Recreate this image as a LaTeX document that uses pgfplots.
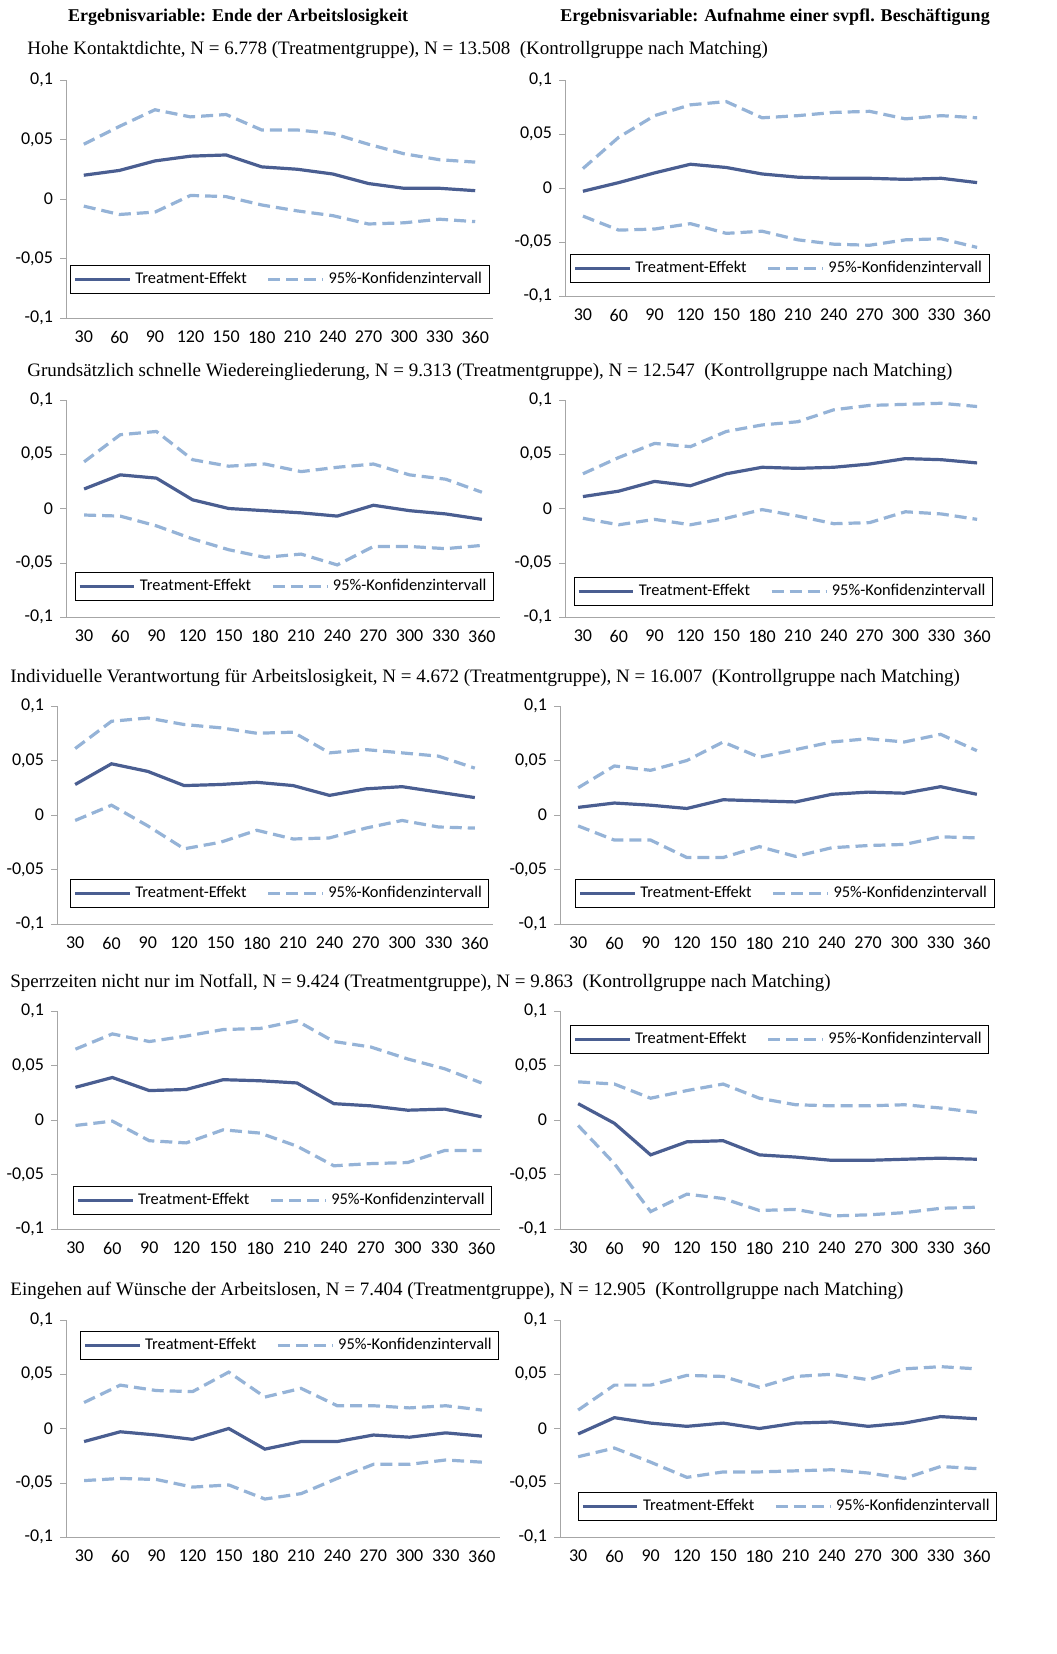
\documentclass[border=0pt]{standalone}
\usepackage{fontspec}
\setmainfont{Liberation Serif}
\newfontfamily\calib{Carlito}
\usepackage{pgfplots}
\usepackage{pgfplotstable}
\pgfplotsset{compat=1.18}
\definecolor{tcol}{RGB}{74,94,145}
\definecolor{ccol}{RGB}{149,179,215}
\pgfplotstableread{
x t u l
30 .020 .046 -.006
60 .024 .061 -.013
90 .032 .075 -.011
120 .036 .069 .003
150 .037 .071 .002
180 .027 .058 -.005
210 .025 .058 -.010
240 .021 .055 -.014
270 .013 .046 -.021
300 .009 .038 -.020
330 .009 .033 -.017
360 .007 .031 -.019
}\tA
\pgfplotstableread{
x t u l
30 -.003 .018 -.026
60 .005 .047 -.039
90 .014 .067 -.038
120 .022 .077 -.033
150 .019 .080 -.042
180 .013 .065 -.040
210 .010 .067 -.048
240 .009 .070 -.052
270 .009 .071 -.053
300 .008 .064 -.048
330 .009 .067 -.047
360 .005 .065 -.055
}\tB
\pgfplotstableread{
x t u l
30 .018 .043 -.006
60 .031 .068 -.007
90 .028 .071 -.016
120 .008 .045 -.028
150 .000 .039 -.038
180 -.002 .041 -.045
210 -.004 .034 -.042
240 -.007 .038 -.052
270 .003 .041 -.035
300 -.002 .031 -.035
330 -.005 .027 -.037
360 -.010 .015 -.034
}\tC
\pgfplotstableread{
x t u l
30 .011 .032 -.009
60 .016 .047 -.015
90 .025 .060 -.010
120 .021 .057 -.015
150 .032 .071 -.009
180 .038 .077 -.001
210 .037 .080 -.007
240 .038 .091 -.014
270 .041 .095 -.013
300 .046 .096 -.003
330 .045 .097 -.005
360 .042 .094 -.010
}\tD
\pgfplotstableread{
x t u l
30 .028 .061 -.005
60 .047 .086 .009
90 .040 .089 -.010
120 .027 .083 -.031
150 .028 .080 -.025
180 .030 .075 -.014
210 .027 .076 -.022
240 .018 .057 -.021
270 .024 .060 -.012
300 .026 .057 -.005
330 .021 .054 -.011
360 .016 .043 -.012
}\tE
\pgfplotstableread{
x t u l
30 .007 .025 -.010
60 .011 .045 -.023
90 .009 .041 -.023
120 .006 .050 -.039
150 .014 .067 -.039
180 .013 .053 -.029
210 .012 .060 -.038
240 .019 .067 -.030
270 .021 .070 -.028
300 .020 .067 -.027
330 .026 .074 -.020
360 .019 .059 -.021
}\tF
\pgfplotstableread{
x t u l
30 .030 .065 -.005
60 .039 .079 -.001
90 .027 .072 -.019
120 .028 .077 -.021
150 .037 .083 -.009
180 .036 .084 -.012
210 .034 .091 -.024
240 .015 .072 -.042
270 .013 .067 -.040
300 .009 .056 -.039
330 .010 .047 -.028
360 .003 .034 -.028
}\tG
\pgfplotstableread{
x t u l
30 .015 .035 -.005
60 -.003 .033 -.040
90 -.032 .020 -.084
120 -.020 .027 -.068
150 -.019 .033 -.072
180 -.032 .020 -.083
210 -.034 .014 -.082
240 -.037 .013 -.088
270 -.037 .013 -.087
300 -.036 .014 -.085
330 -.035 .011 -.081
360 -.036 .007 -.080
}\tH
\pgfplotstableread{
x t u l
30 -.012 .024 -.048
60 -.003 .040 -.046
90 -.006 .035 -.047
120 -.010 .034 -.054
150 .000 .052 -.052
180 -.019 .029 -.065
210 -.012 .037 -.060
240 -.012 .021 -.046
270 -.006 .021 -.033
300 -.008 .019 -.033
330 -.004 .021 -.029
360 -.007 .017 -.031
}\tI
\pgfplotstableread{
x t u l
30 -.005 .017 -.026
60 .010 .040 -.018
90 .005 .040 -.031
120 .002 .049 -.045
150 .005 .048 -.040
180 .000 .038 -.040
210 .005 .048 -.039
240 .006 .050 -.038
270 .002 .045 -.041
300 .005 .055 -.046
330 .011 .057 -.035
360 .009 .055 -.037
}\tJ
\pgfplotsset{panel/.style={scale only axis, xmin=15, xmax=375, ymin=-0.1, ymax=0.1,
  xtick={30,60,...,360}, ytick={-0.1,-0.05,0,0.05,0.1},
  yticklabels={{-0,1},{-0,05},0,{0,05},{0,1}},
  axis x line*=bottom, axis y line*=left, axis line style={gray!70,-},
  major x tick style={draw=none}, ytick style={gray!70}, tick align=outside, major tick length=3pt,
  tick label style={font=\calib\fontsize{9}{10}\selectfont},
  /pgf/number format/assume math mode=true,
  legend columns=2,
  legend style={font=\calib\fontsize{8.2}{9}\selectfont, draw=black, inner sep=1.5pt, row sep=0pt,
    /tikz/every even column/.append style={column sep=8pt}},
  legend image post style={xscale=1.6},
}}
\newcommand\panel[6]{%
\pgfmathsetmacro\pw{(#2-#1)*0.5}\pgfmathsetmacro\ph{(#4-#3)*0.5}%
\begin{axis}[panel, at={(#1*0.5pt,-#4*0.5pt)}, anchor=south west, width=\pw pt, height=\ph pt, legend style={#5}]
\addplot[tcol, line width=1.6pt] table[x=x,y=t] {#6};
\addplot[ccol, line width=1.6pt, dashed, dash pattern=on 6pt off 3pt] table[x=x,y=u] {#6};
\addplot[ccol, line width=1.6pt, dashed, dash pattern=on 6pt off 3pt, forget plot] table[x=x,y=l] {#6};
\legend{Treatment-Effekt,95\%-Konfidenzintervall}
\end{axis}}
\begin{document}
\begin{tikzpicture}
\useasboundingbox (0,0) rectangle (528pt,-827pt);
\tikzset{tt/.style={anchor=west, inner sep=0pt, font=\fontsize{9.5}{11}\selectfont}}
\node[font=\bfseries\fontsize{9}{11}\selectfont] at (238*0.5pt,-17*0.5pt) {Ergebnisvariable: Ende der Arbeitslosigkeit};
\node[font=\bfseries\fontsize{9}{11}\selectfont] at (775*0.5pt,-17*0.5pt) {Ergebnisvariable: Aufnahme einer svpfl. Beschäftigung};
\node[tt] at (27*0.5pt,-50*0.5pt) {Hohe Kontaktdichte, N = 6.778 (Treatmentgruppe), N = 13.508\ \ (Kontrollgruppe nach Matching)};
\node[tt] at (27*0.5pt,-372*0.5pt) {Grundsätzlich schnelle Wiedereingliederung, N = 9.313 (Treatmentgruppe), N = 12.547\ \ (Kontrollgruppe nach Matching)};
\node[tt] at (10*0.5pt,-678*0.5pt) {Individuelle Verantwortung für Arbeitslosigkeit, N = 4.672 (Treatmentgruppe), N = 16.007\ \ (Kontrollgruppe nach Matching)};
\node[tt] at (10*0.5pt,-983*0.5pt) {Sperrzeiten nicht nur im Notfall, N = 9.424 (Treatmentgruppe), N = 9.863\ \ (Kontrollgruppe nach Matching)};
\node[tt] at (10*0.5pt,-1291*0.5pt) {Eingehen auf Wünsche der Arbeitslosen, N = 7.404 (Treatmentgruppe), N = 12.905\ \ (Kontrollgruppe nach Matching)};
\panel{66}{493}{80}{318}{at={(0.01,0.1)},anchor=south west}{\tA}
\panel{565}{995}{80}{296}{at={(0.012,0.06)},anchor=south west}{\tB}
\panel{66}{500}{400}{617}{at={(0.02,0.074)},anchor=south west}{\tC}
\panel{565}{995}{400}{617}{at={(0.02,0.05)},anchor=south west}{\tD}
\panel{57}{493}{706}{924}{at={(0.03,0.074)},anchor=south west}{\tE}
\panel{560}{995}{706}{924}{at={(0.035,0.074)},anchor=south west}{\tF}
\panel{57}{500}{1011}{1229}{at={(0.036,0.064)},anchor=south west}{\tG}
\panel{560}{995}{1011}{1229}{at={(0.023,0.936)},anchor=north west}{\tH}
\panel{66}{500}{1320}{1537}{at={(0.032,0.95)},anchor=north west}{\tI}
\panel{560}{995}{1320}{1537}{at={(0.041,0.074)},anchor=south west}{\tJ}
\end{tikzpicture}
\end{document}
